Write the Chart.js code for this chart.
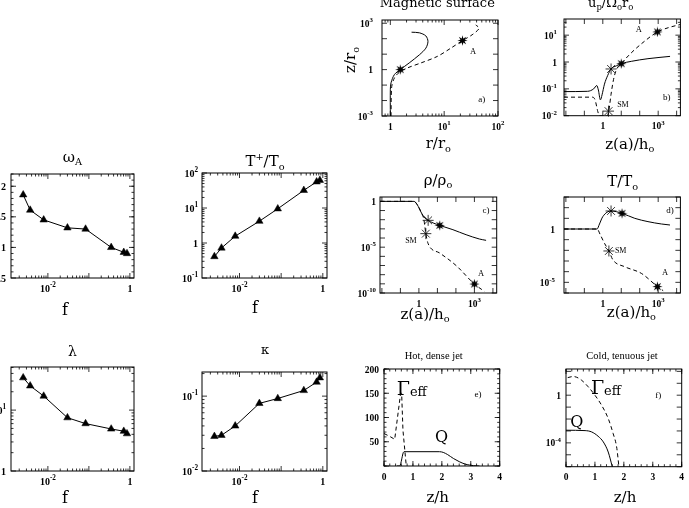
<!DOCTYPE html>
<html><head><meta charset="utf-8">
<script src="https://cdn.jsdelivr.net/npm/chart.js@4.4.0/dist/chart.umd.min.js"></script>
<style>
html,body{margin:0;padding:0;background:#fff;width:689px;height:508px;overflow:hidden;position:relative}
canvas{position:absolute}
</style></head><body>
<script>
// ---- values ----
// left block: parameter study against f
const fVals = [0.0025, 0.0037, 0.0079, 0.030, 0.083, 0.35, 0.71, 0.85];
const omegaA = [1.86, 1.61, 1.45, 1.32, 1.30, 1.00, 0.92, 0.90];
const tPlus = [0.41, 0.72, 1.57, 4.2, 9.5, 32, 56, 62];
const lambdaVals = [34, 25, 17, 7.5, 6.0, 4.9, 4.5, 4.1];
const kappaVals = [0.029, 0.030, 0.040, 0.080, 0.093, 0.119, 0.154, 0.176];

// a) magnetic surface
const rSolid = [1.0, 1.0, 1.03, 1.19, 1.53, 2.24, 3.47, 4.57, 5.0, 4.57, 3.47, 2.48];
const zSolid = [1e-3, 0.052, 0.14, 0.48, 1.0, 2.7, 9.1, 24.5, 66, 151, 240, 263];
const rDash = [1.03, 1.06, 1.19, 1.47, 2.09, 3.7, 7.5, 13.3, 21.9, 33, 44.7, 38.6];
const zDash = [1e-3, 0.078, 0.29, 0.68, 1.3, 2.7, 7.2, 24.5, 76, 178, 476, 776];
const aStarR = [1.53, 21.9];
const aStarZ = [1.0, 76];

// b) poloidal velocity
const zbSolid = [7.9e-3, 0.15, 0.32, 0.47, 0.575, 0.74, 0.91, 1.23, 1.86, 2.8, 5.4, 10, 35, 280, 4400];
const ubSolid = [0.079, 0.081, 0.10, 0.133, 0.091, 0.039, 0.060, 0.15, 0.32, 0.55, 0.72, 0.87, 1.06, 1.33, 1.62];
const zbDash = [7.9e-3, 0.28, 0.38, 0.54, 0.66, 1.74, 2.14, 2.8, 3.8, 5.4, 10, 35, 186, 910, 3550, 1.6e4];
const ubDash = [0.049, 0.049, 0.039, 0.014, 0.010, 0.010, 0.016, 0.063, 0.22, 0.51, 0.87, 2.2, 6.0, 13.2, 19, 25];
const bOpenZ = [2.8, 2.04];
const bOpenU = [0.55, 0.0148];
const bStarZ = [10, 910];
const bStarU = [0.87, 13.2];

// c) density
const zcSolid = [7.9e-3, 0.54, 0.81, 1.38, 2.09, 3.16, 5.9, 13.3, 69, 355, 1860, 4270];
const rhoSolid = [1, 1, 0.44, 0.054, 0.015, 8.5e-3, 4.4e-3, 2.4e-3, 8.1e-4, 2.3e-4, 7.8e-5, 5.6e-5];
const zcDash = [7.9e-3, 0.54, 0.81, 1.38, 1.86, 2.37, 3.16, 13.3, 105, 1000, 3470];
const rhoDash = [1, 1, 0.44, 0.054, 0.01, 3.0e-4, 2.4e-5, 2.3e-6, 9.5e-8, 9.5e-10, 1.5e-10];
const cOpenZ = [3.16, 2.37];
const cOpenRho = [8.5e-3, 3.0e-4];
const cStarZ = [13.3, 1000];
const cStarRho = [2.4e-3, 9.5e-10];

// d) temperature
const zdSolid = [7.9e-3, 0.49, 0.66, 1.0, 2.8, 11, 54, 280, 1510, 4370];
const tSolid = [1, 1, 2.95, 14.5, 49, 29.5, 10, 4.9, 2.95, 2.37];
const zdDash = [7.9e-3, 0.49, 0.74, 1.23, 2.14, 3.55, 15, 123, 910, 1860];
const tDash = [1, 1, 0.275, 0.046, 8.7e-3, 1.26e-3, 2.95e-4, 6.9e-5, 4.0e-6, 1.66e-6];
const dOpenZ = [2.8, 2.14];
const dOpenT = [49, 8.7e-3];
const dStarZ = [11, 910];
const dStarT = [29.5, 4.0e-6];

// e) hot, dense jet
const zeQ = [0.45, 0.54, 0.69, 1.92, 2.05, 2.2, 2.4, 2.6, 2.8, 2.95, 3.1, 3.3];
const qHot = [0, 0, 29.5, 29.5, 28, 23.5, 15.5, 9, 4, 2, 0.6, 0];
const zeG = [0, 0.2, 0.37, 0.575, 0.61, 0.655, 0.77];
const gHot = [67, 61, 55, 150, 150, 74, 0];

// f) cold, tenuous jet
const zfG = [0.06, 0.25, 0.37, 0.54, 0.77, 1.0, 1.23, 1.46, 1.63, 1.75, 1.83];
const gCold = [30, 37, 32, 18, 5.0, 1.0, 0.145, 0.011, 6.0e-4, 4.6e-5, 1e-6];
const zfQ = [0, 0.66, 0.885, 1.11, 1.29, 1.46, 1.6];
const qCold = [1.15e-3, 1.07e-3, 8.3e-4, 3.6e-4, 1.2e-4, 1.7e-5, 1e-6];

// tick labels
const fTickVals = [1e-2, 1], fTickText = ['10^{-2}', '1'];
const omegaTickVals = [0.5, 1, 1.5, 2], omegaTickText = ['0.5', '1', '1.5', '2'];
const tPlusTickVals = [0.1, 1, 10, 100], tPlusTickText = ['10^{-1}', '1', '10^{1}', '10^{2}'];
const lambdaTickVals = [1, 10], lambdaTickText = ['1', '10^{1}'];
const kappaTickVals = [0.01, 0.1], kappaTickText = ['10^{-2}', '10^{-1}'];
const rTickVals = [1, 10, 100], rTickText = ['1', '10^{1}', '10^{2}'];
const zrTickVals = [1e-3, 1, 1e3], zrTickText = ['10^{-3}', '1', '10^{3}'];
const zhTickVals = [1, 1e3], zhTickText = ['1', '10^{3}'];
const upTickVals = [0.01, 0.1, 1, 10], upTickText = ['10^{-2}', '10^{-1}', '1', '10^{1}'];
const rhoTickVals = [1e-10, 1e-5, 1], rhoTickText = ['10^{-10}', '10^{-5}', '1'];
const tempTickVals = [1e-5, 1], tempTickText = ['10^{-5}', '1'];
const zTickVals = [0, 1, 2, 3, 4], zTickText = ['0', '1', '2', '3', '4'];
const hotTickVals = [50, 100, 150, 200], hotTickText = ['50', '100', '150', '200'];
const coldTickVals = [1e-4, 1], coldTickText = ['10^{-4}', '1'];

// ---- helpers ----
function decades(lo, hi) {
  const out = [];
  for (let e = Math.ceil(Math.log10(lo) - 1e-9); e <= Math.floor(Math.log10(hi) + 1e-9); e++) out.push(Math.pow(10, e));
  return out;
}
function logMinor(lo, hi) {
  const out = [];
  for (let e = Math.floor(Math.log10(lo)); e <= Math.ceil(Math.log10(hi)); e++)
    for (let k = 2; k <= 9; k++) { const v = k * Math.pow(10, e); if (v > lo && v < hi) out.push(v); }
  return out;
}
function steps(lo, hi, st) {
  const out = [];
  for (let v = lo; v <= hi + 1e-9; v += st) out.push(+v.toFixed(6));
  return out;
}
function pts(xs, ys) { return xs.map((x, i) => ({ x: x, y: ys[i] })); }

function parseRich(s) {
  const out = [];
  let i = 0;
  while (i < s.length) {
    const c = s[i];
    if ((c === '^' || c === '_') && s[i + 1] === '{') {
      const j = s.indexOf('}', i);
      out.push({ t: s.slice(i + 2, j), m: c === '^' ? 1 : -1 });
      i = j + 1;
    } else {
      const last = out[out.length - 1];
      if (last && last.m === 0) last.t += c; else out.push({ t: c, m: 0 });
      i++;
    }
  }
  return out;
}
function drawRich(ctx, s, x, y, size, o) {
  o = o || {};
  const fam = o.fam || 'Liberation Serif';
  const wt = o.weight || 'normal';
  const sc = o.scale || 0.65;
  const segs = parseRich(s);
  let w = 0;
  segs.forEach(g => {
    g.size = g.m ? size * sc : size;
    ctx.font = wt + ' ' + g.size + 'px "' + fam + '"';
    g.w = ctx.measureText(g.t).width;
    w += g.w;
  });
  let cx = x;
  if (o.align === 'center' || !o.align) cx = x - w / 2;
  else if (o.align === 'right') cx = x - w;
  ctx.textAlign = 'left';
  ctx.textBaseline = 'alphabetic';
  segs.forEach(g => {
    ctx.font = wt + ' ' + g.size + 'px "' + fam + '"';
    const dy = g.m === 1 ? -size * (o.up || 0.42) : g.m === -1 ? size * (o.drop || 0.25) : 0;
    ctx.fillText(g.t, cx, y + dy);
    cx += g.w;
  });
}

function starImage(size) {
  const c = document.createElement('canvas');
  c.width = c.height = size;
  const g = c.getContext('2d');
  g.translate(size / 2, size / 2);
  g.beginPath();
  const R = size / 2 - 0.3, r = R * 0.42;
  for (let i = 0; i < 16; i++) {
    const a = i * Math.PI / 8 - Math.PI / 2;
    const rr = i % 2 ? r : R;
    g.lineTo(rr * Math.cos(a), rr * Math.sin(a));
  }
  g.closePath();
  g.fillStyle = '#000';
  g.fill();
  return c;
}
const filledStar = starImage(11);

function curve(xs, ys, dashed, mode) {
  return {
    data: pts(xs, ys), showLine: true, pointRadius: 0, borderColor: '#000', borderWidth: 1,
    borderDash: dashed ? [4, 3] : [], tension: mode === 'loop' ? 0.3 : 0,
    cubicInterpolationMode: mode === 'mono' ? 'monotone' : 'default'
  };
}
function openMarks(xs, ys) {
  return { data: pts(xs, ys), showLine: false, pointStyle: 'star', pointRadius: 5.5, borderWidth: 0.8, borderColor: '#000', clip: false };
}
function filledMarks(xs, ys) {
  return { data: pts(xs, ys), showLine: false, pointStyle: filledStar, pointRadius: 5, clip: false };
}
function triangles(xs, ys) {
  return {
    data: pts(xs, ys), showLine: true, borderColor: '#000', borderWidth: 1, tension: 0,
    pointStyle: 'triangle', pointRadius: 4.3, pointBackgroundColor: '#000', pointBorderColor: '#000', pointBorderWidth: 0.5, clip: false
  };
}

const framePlugin = {
  id: 'frame',
  afterDraw(chart, args, o) {
    const ctx = chart.ctx, a = chart.chartArea, xs = chart.scales.x, ys = chart.scales.y;
    ctx.save();
    ctx.strokeStyle = '#000';
    ctx.fillStyle = '#000';
    ctx.lineWidth = 1;
    ctx.strokeRect(a.left, a.top, a.right - a.left, a.bottom - a.top);
    const seg = (x1, y1, x2, y2) => { ctx.beginPath(); ctx.moveTo(x1, y1); ctx.lineTo(x2, y2); ctx.stroke(); };
    const xt = (v, len) => { const p = xs.getPixelForValue(v); seg(p, a.bottom, p, a.bottom - len); seg(p, a.top, p, a.top + len); };
    const yt = (v, len) => { const p = ys.getPixelForValue(v); seg(a.left, p, a.left + len, p); seg(a.right, p, a.right - len, p); };
    ctx.lineWidth = 0.8;
    (o.x.minor || []).forEach(v => xt(v, 2.5));
    (o.x.major || []).forEach(v => xt(v, 5));
    (o.y.minor || []).forEach(v => yt(v, 2.5));
    (o.y.major || []).forEach(v => yt(v, 5));
    const ts = o.tick || 10;
    const tf = { fam: 'Liberation Serif', weight: 'bold', scale: 0.72, up: 0.45 };
    o.x.vals.forEach((v, i) => drawRich(ctx, o.x.text[i], xs.getPixelForValue(v), a.bottom + 13.5, ts, Object.assign({ align: 'center' }, tf)));
    o.y.vals.forEach((v, i) => drawRich(ctx, o.y.text[i], a.left - o.y.gap, ys.getPixelForValue(v) + 3.5, ts, Object.assign({ align: 'right' }, tf)));
    (o.texts || []).forEach(t => {
      const px = t.x - o.origin[0], py = t.y - o.origin[1];
      if (t.rot) {
        ctx.save(); ctx.translate(px, py); ctx.rotate(-Math.PI / 2);
        drawRich(ctx, t.s, 0, 0, t.size, t);
        ctx.restore();
      } else drawRich(ctx, t.s, px, py, t.size, t);
    });
    (o.notes || []).forEach(t => drawRich(ctx, t.s, xs.getPixelForValue(t.x), ys.getPixelForValue(t.y), t.size, t));
    ctx.restore();
  }
};

function makePanel(p) {
  const [l, t, r, b] = p.box;
  const padL = 50, padT = 30, padR = 10, padB = 45;
  const c = document.createElement('canvas');
  const ox = l - padL, oy = t - padT;
  c.width = Math.round(r - l + padL + padR);
  c.height = Math.round(b - t + padT + padB);
  c.style.left = ox + 'px';
  c.style.top = oy + 'px';
  document.body.appendChild(c);
  new Chart(c, {
    type: 'scatter',
    data: { datasets: p.datasets },
    plugins: [framePlugin],
    options: {
      responsive: false, animation: false, events: [],
      layout: { padding: { left: padL, top: padT, right: c.width - padL - (r - l), bottom: c.height - padT - (b - t) } },
      plugins: {
        legend: { display: false }, tooltip: { enabled: false },
        frame: { origin: [ox, oy], x: p.x, y: p.y, texts: p.texts, notes: p.notes, tick: p.tick }
      },
      scales: {
        x: { type: p.x.type, min: p.x.min, max: p.x.max, display: false },
        y: { type: p.y.type, min: p.y.min, max: p.y.max, display: false }
      }
    }
  });
}

const title = (s, x, y, size, extra) => Object.assign({ s: s, x: x, y: y, size: size, fam: 'DejaVu Serif', align: 'center' }, extra || {});
const fAxis = (lo, hi) => ({ type: 'logarithmic', min: lo, max: hi, major: decades(lo, hi), minor: logMinor(lo, hi), vals: fTickVals, text: fTickText });
const F_LO = 1.26e-3, F_HI = 1.26;

// ---- left block ----
makePanel({
  box: [11, 174, 134, 278],
  x: fAxis(F_LO, F_HI),
  y: { type: 'linear', min: 0.5, max: 2.2, major: omegaTickVals, minor: steps(0.6, 2.2, 0.1), vals: omegaTickVals, text: omegaTickText, gap: 5 },
  datasets: [triangles(fVals, omegaA)],
  texts: [title('ω_{A}', 72.5, 161.5, 15), title('f', 65, 315, 16)]
});
makePanel({
  box: [202, 173, 327, 278],
  x: fAxis(F_LO, F_HI),
  y: { type: 'logarithmic', min: 0.1, max: 100, major: decades(0.1, 100), minor: logMinor(0.1, 100), vals: tPlusTickVals, text: tPlusTickText, gap: 4 },
  datasets: [triangles(fVals, tPlus)],
  texts: [title('T^{+}/T_{o}', 265, 166, 15), title('f', 255, 312.7, 16)]
});
makePanel({
  box: [11, 367, 134, 471],
  x: fAxis(F_LO, F_HI),
  y: { type: 'logarithmic', min: 1, max: 51, major: decades(1, 51), minor: logMinor(1, 51), vals: lambdaTickVals, text: lambdaTickText, gap: 5 },
  datasets: [triangles(fVals, lambdaVals)],
  texts: [title('λ', 72.5, 356, 14), title('f', 65, 503, 16)]
});
makePanel({
  box: [202, 372, 327, 471],
  x: fAxis(F_LO, F_HI),
  y: { type: 'logarithmic', min: 0.01, max: 0.21, major: decades(0.01, 0.21), minor: logMinor(0.01, 0.21), vals: kappaTickVals, text: kappaTickText, gap: 4 },
  datasets: [triangles(fVals, kappaVals)],
  texts: [title('κ', 265, 353.5, 13), title('f', 255, 503, 16)]
});

// ---- right block ----
const Z_LO = 7.9e-3, Z_HI = 1.6e4;
const zAxis = () => ({ type: 'logarithmic', min: Z_LO, max: Z_HI, major: decades(Z_LO, Z_HI), vals: zhTickVals, text: zhTickText });
const noteF = { fam: 'Liberation Serif', align: 'center' };

makePanel({
  box: [381.7, 20, 497.7, 116], tick: 9.5,
  x: { type: 'logarithmic', min: 0.72, max: 100, major: decades(0.72, 100), minor: logMinor(0.72, 100), vals: rTickVals, text: rTickText },
  y: { type: 'logarithmic', min: 1e-3, max: 1620, major: decades(1e-3, 1620), vals: zrTickVals, text: zrTickText, gap: 9 },
  datasets: [curve(rSolid, zSolid, false, 'loop'), curve(rDash, zDash, true, 'loop'), filledMarks(aStarR, aStarZ)],
  texts: [title('Magnetic surface', 437, 7, 13), title('r/r_{o}', 438, 148, 15), title('z/r_{o}', 355, 60, 15, { rot: true })],
  notes: [Object.assign({ s: 'A', x: 34.5, y: 9.8, size: 8.5 }, noteF), Object.assign({ s: 'a)', x: 50, y: 8.5e-3, size: 9 }, noteF)]
});
makePanel({
  box: [564.3, 19.3, 680.7, 116], tick: 9.5,
  x: zAxis(),
  y: { type: 'logarithmic', min: 0.01, max: 40, major: decades(0.01, 40), minor: logMinor(0.01, 40), vals: upTickVals, text: upTickText, gap: 7 },
  datasets: [curve(zbSolid, ubSolid, false, 'mono'), curve(zbDash, ubDash, true, 'mono'), openMarks(bOpenZ, bOpenU), filledMarks(bStarZ, bStarU)],
  texts: [title('u_{p}/Ω_{o}r_{o}', 611, 7, 13), title('z(a)/h_{o}', 630, 149, 15)],
  notes: [Object.assign({ s: 'A', x: 89, y: 13.5, size: 8.5 }, noteF), Object.assign({ s: 'SM', x: 12.3, y: 0.021, size: 8 }, noteF), Object.assign({ s: 'b)', x: 2900, y: 0.038, size: 9 }, noteF)]
});
makePanel({
  box: [380, 197.3, 496.7, 293.3], tick: 9.5,
  x: zAxis(),
  y: { type: 'logarithmic', min: 1e-10, max: 3, major: decades(1e-10, 3), vals: rhoTickVals, text: rhoTickText, gap: 4 },
  datasets: [curve(zcSolid, rhoSolid, false, 'mono'), curve(zcDash, rhoDash, true, 'mono'), openMarks(cOpenZ, cOpenRho), filledMarks(cStarZ, cStarRho)],
  texts: [title('ρ/ρ_{o}', 438, 185, 15), title('z(a)/h_{o}', 425, 319, 15)],
  notes: [Object.assign({ s: 'c)', x: 4250, y: 0.049, size: 9 }, noteF), Object.assign({ s: 'SM', x: 0.37, y: 3.2e-5, size: 8 }, noteF), Object.assign({ s: 'A', x: 2300, y: 7.2e-9, size: 8.5 }, noteF)]
});
makePanel({
  box: [564.3, 197.3, 680.7, 293.3], tick: 9.5,
  x: zAxis(),
  y: { type: 'logarithmic', min: 1e-6, max: 1e3, major: decades(1e-6, 1e3), vals: tempTickVals, text: tempTickText, gap: 9 },
  datasets: [curve(zdSolid, tSolid, false, 'mono'), curve(zdDash, tDash, true, 'mono'), openMarks(dOpenZ, dOpenT), filledMarks(dStarZ, dStarT)],
  texts: [title('T/T_{o}', 623, 186.7, 15), title('z(a)/h_{o}', 631.7, 317, 15)],
  notes: [Object.assign({ s: 'd)', x: 4360, y: 34, size: 9 }, noteF), Object.assign({ s: 'SM', x: 9.3, y: 5.2e-3, size: 8 }, noteF), Object.assign({ s: 'A', x: 2340, y: 4.5e-5, size: 8.5 }, noteF)]
});
makePanel({
  box: [384.3, 369, 500, 466], tick: 9.5,
  x: { type: 'linear', min: 0, max: 4, major: zTickVals, minor: steps(0, 4, 0.2), vals: zTickVals, text: zTickText },
  y: { type: 'linear', min: 0, max: 200, major: steps(0, 200, 50), minor: steps(0, 200, 10), vals: hotTickVals, text: hotTickText, gap: 5 },
  datasets: [curve(zeQ, qHot, false, 'mono'), curve(zeG, gHot, true, 'straight')],
  texts: [title('Hot, dense jet', 434, 358.5, 10.5, { fam: 'Liberation Serif' }), title('z/h', 438, 501.7, 15)],
  notes: [
    { s: 'Γ_{eff}', x: 0.44, y: 146, size: 19, fam: 'DejaVu Serif', align: 'left', drop: 0.05, scale: 0.68 },
    Object.assign({ s: 'Q', x: 1.99, y: 49.5, size: 16 }, { fam: 'DejaVu Serif', align: 'center' }),
    Object.assign({ s: 'e)', x: 3.25, y: 143, size: 9 }, noteF)
  ]
});
makePanel({
  box: [566, 369, 681.7, 466.7], tick: 9.5,
  x: { type: 'linear', min: 0, max: 4, major: zTickVals, minor: steps(0, 4, 0.2), vals: zTickVals, text: zTickText },
  y: { type: 'logarithmic', min: 1e-6, max: 158, major: decades(1e-6, 158), vals: coldTickVals, text: coldTickText, gap: 5 },
  datasets: [curve(zfQ, qCold, false, 'mono'), curve(zfG, gCold, true, 'mono')],
  texts: [title('Cold, tenuous jet', 622, 358.5, 10.5, { fam: 'Liberation Serif' }), title('z/h', 625, 501.7, 15)],
  notes: [
    { s: 'Γ_{eff}', x: 0.86, y: 1.26, size: 19, fam: 'DejaVu Serif', align: 'left', drop: 0.05, scale: 0.68 },
    Object.assign({ s: 'Q', x: 0.37, y: 2.2e-3, size: 16 }, { fam: 'DejaVu Serif', align: 'center' }),
    Object.assign({ s: 'f)', x: 3.19, y: 0.57, size: 9 }, noteF)
  ]
});
</script>
</body></html>
